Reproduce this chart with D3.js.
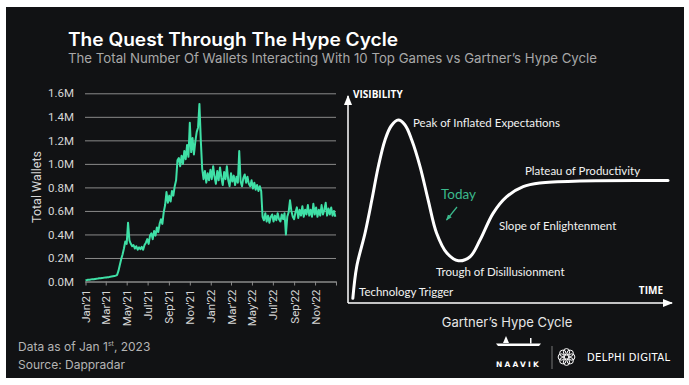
<!DOCTYPE html>
<html>
<head>
<meta charset="utf-8">
<script src="https://cdn.jsdelivr.net/npm/d3@7"></script>
<style>
  html, body { margin: 0; padding: 0; background: #fff; }
  svg { display: block; }
</style>
</head>
<body>
<div id="chart"></div>
<script>
// wallets series: one reading every 4 days from Jan 1 2021 (millions)
const startDate = "2021-01-01";
const stepDays = 4;
const wallets = [
  0.010, 0.012, 0.015, 0.014, 0.018, 0.020, 0.019, 0.022, 0.024, 0.025,
  0.027, 0.028, 0.030, 0.031, 0.033, 0.034, 0.036, 0.037, 0.040, 0.042,
  0.044, 0.046, 0.050, 0.055, 0.090, 0.140, 0.190, 0.230, 0.280, 0.340,
  0.320, 0.500, 0.350, 0.320, 0.300, 0.310, 0.280, 0.300, 0.270, 0.290,
  0.275, 0.295, 0.270, 0.310, 0.330, 0.360, 0.320, 0.390, 0.410, 0.360,
  0.430, 0.390, 0.460, 0.420, 0.490, 0.530, 0.490, 0.590, 0.650, 0.760,
  0.670, 0.730, 0.680, 0.770, 0.730, 0.810, 0.860, 1.030, 1.050, 0.980,
  1.070, 1.000, 1.110, 1.040, 1.160, 1.060, 1.350, 1.100, 1.220, 1.080,
  1.190, 1.270, 1.310, 1.510, 1.200, 0.960, 0.870, 0.940, 0.840, 0.920,
  0.860, 0.950, 0.870, 0.980, 0.890, 0.830, 0.940, 0.860, 0.970, 0.880,
  0.820, 0.930, 0.870, 0.980, 0.860, 0.810, 0.920, 0.850, 0.900, 0.820,
  0.890, 0.840, 1.110, 0.850, 0.810, 0.880, 0.910, 0.840, 0.890, 0.830,
  0.810, 0.860, 0.790, 0.840, 0.780, 0.820, 0.770, 0.810, 0.770, 0.550,
  0.520, 0.580, 0.510, 0.560, 0.500, 0.550, 0.570, 0.510, 0.560, 0.520,
  0.580, 0.530, 0.510, 0.570, 0.530, 0.580, 0.400, 0.550, 0.590, 0.690,
  0.600, 0.550, 0.530, 0.590, 0.630, 0.540, 0.610, 0.560, 0.640, 0.550,
  0.610, 0.570, 0.650, 0.560, 0.610, 0.550, 0.660, 0.570, 0.630, 0.550,
  0.610, 0.560, 0.650, 0.570, 0.610, 0.670, 0.560, 0.620, 0.570, 0.630,
  0.560, 0.600, 0.550
];
const yTicks = [0, 0.2, 0.4, 0.6, 0.8, 1.0, 1.2, 1.4, 1.6];

// hype cycle curve (time 0-100, visibility 0-100)
const hypeTime = [1.5, 2.7, 5.3, 7.4, 9.4, 11.5, 13.4, 15.6, 17.7, 19.8, 22.4, 24.9, 27.5,
  30.7, 34.3, 37.9, 41.0, 45.1, 49.3, 54.4, 59.6, 72, 99.4];
const hypeVis = [2.3, 17.9, 34.5, 50.7, 67.1, 80.3, 87.2, 90.1, 87.7, 80.3, 67.1, 50.7, 34.5,
  24.6, 20.8, 22.8, 31.0, 44.3, 52.4, 57.3, 59.1, 60.1, 60.3];
const hypePhases = ["Technology Trigger", "Peak of Inflated Expectations", "Trough of Disillusionment",
  "Slope of Enlightenment", "Plateau of Productivity"];

const W = 689, H = 385;
const bg = "#111214";
const green = "#3fe0a6";
const grid = "#8a8a8a";

const svg = d3.select("#chart").append("svg")
  .attr("width", W).attr("height", H);

svg.append("rect")
  .attr("x", 6).attr("y", 7).attr("width", 678).attr("height", 371)
  .attr("fill", bg);

// titles
svg.append("text")
  .attr("x", 68).attr("y", 46)
  .attr("font-family", "Inter, Roboto, sans-serif")
  .attr("font-weight", 600).attr("font-size", 18)
  .attr("fill", "#fff")
  .attr("textLength", 330).attr("lengthAdjust", "spacingAndGlyphs")
  .text("The Quest Through The Hype Cycle");

svg.append("text")
  .attr("x", 68).attr("y", 63)
  .attr("font-family", "Inter, Roboto, sans-serif")
  .attr("font-size", 13)
  .attr("fill", "#a8a8a8")
  .attr("textLength", 529).attr("lengthAdjust", "spacingAndGlyphs")
  .text("The Total Number Of Wallets Interacting With 10 Top Games vs Gartner\u2019s Hype Cycle");

// ---- left chart: wallets
const parse = d3.timeParse("%Y-%m-%d");
const t0 = parse(startDate);
const series = wallets.map((v, i) => ({ date: d3.timeDay.offset(t0, i * stepDays), value: v }));

const x = d3.scaleTime()
  .domain([parse("2021-01-01"), parse("2023-01-01")])
  .range([85.5, 336]);
const y = d3.scaleLinear()
  .domain([0, 1.6])
  .range([281.5, 93.3]);

const gy = svg.append("g")
  .attr("transform", "translate(85,0)")
  .call(d3.axisLeft(y).tickValues(yTicks)
    .tickFormat(d => d.toFixed(1) + "M")
    .tickSize(-251).tickPadding(11));
gy.select(".domain").remove();
gy.selectAll(".tick line").attr("stroke", grid).attr("stroke-width", 1);
gy.selectAll(".tick text")
  .attr("fill", "#d6d6d6")
  .attr("font-family", "Roboto, 'Open Sans', sans-serif")
  .attr("font-size", 11.5);

const monthFmt = d3.timeFormat("%b'%y");
const gx = svg.append("g")
  .attr("transform", "translate(0,281.5)")
  .call(d3.axisBottom(x).ticks(d3.timeMonth.every(2))
    .tickFormat(d => d.getFullYear() > 2022 ? "" : monthFmt(d))
    .tickSize(4).tickSizeOuter(0));
gx.select(".domain").attr("stroke", grid);
gx.selectAll(".tick line").attr("stroke", grid);
gx.selectAll(".tick text")
  .attr("fill", "#d6d6d6")
  .attr("font-family", "Roboto, 'Open Sans', sans-serif")
  .attr("font-size", 11.5)
  .attr("transform", "rotate(-90)")
  .attr("text-anchor", "end")
  .attr("x", -8).attr("y", 0).attr("dy", "0.35em");

svg.append("text")
  .attr("transform", "translate(41,187) rotate(-90)")
  .attr("text-anchor", "middle")
  .attr("fill", "#d6d6d6")
  .attr("font-family", "Roboto, 'Open Sans', sans-serif")
  .attr("font-size", 12.5)
  .text("Total Wallets");

const line = d3.line()
  .x(d => x(d.date))
  .y(d => y(d.value));

svg.append("path")
  .datum(series)
  .attr("fill", "none")
  .attr("stroke", green)
  .attr("stroke-width", 2)
  .attr("stroke-linejoin", "round")
  .attr("d", line);

// ---- right chart: hype cycle
const hx = d3.scaleLinear().domain([0, 100]).range([348, 670]);
const hy = d3.scaleLinear().domain([0, 100]).range([303, 100]);

const defs = svg.append("defs");
defs.append("marker")
  .attr("id", "ah").attr("viewBox", "0 0 10 10")
  .attr("refX", 9).attr("refY", 5)
  .attr("markerWidth", 7).attr("markerHeight", 7)
  .attr("orient", "auto-start-reverse")
  .append("path").attr("d", "M0,1 L10,5 L0,9 Z").attr("fill", "#fff");
defs.append("marker")
  .attr("id", "ag").attr("viewBox", "0 0 10 10")
  .attr("refX", 9).attr("refY", 5)
  .attr("markerWidth", 5).attr("markerHeight", 5)
  .attr("orient", "auto")
  .append("path").attr("d", "M0,1 L10,5 L0,9 Z").attr("fill", "#3bb98c");

svg.append("line")
  .attr("x1", hx(0)).attr("y1", hy(0)).attr("x2", hx(0)).attr("y2", 96)
  .attr("stroke", "#fff").attr("stroke-width", 1.5)
  .attr("marker-end", "url(#ah)");
svg.append("line")
  .attr("x1", hx(0)).attr("y1", hy(0)).attr("x2", 672).attr("y2", hy(0))
  .attr("stroke", "#fff").attr("stroke-width", 1.5)
  .attr("marker-end", "url(#ah)");

const hypeLine = d3.line()
  .x(d => hx(d[0]))
  .y(d => hy(d[1]))
  .curve(d3.curveCatmullRom.alpha(0.5));

svg.append("path")
  .datum(hypeTime.map((t, i) => [t, hypeVis[i]]))
  .attr("fill", "none")
  .attr("stroke", "#fff")
  .attr("stroke-width", 3)
  .attr("stroke-linecap", "round")
  .attr("d", hypeLine);

const labelFont = "Lato, 'Open Sans', sans-serif";
svg.append("text")
  .attr("x", 353).attr("y", 98)
  .attr("font-family", "'Open Sans', sans-serif").attr("font-weight", 700)
  .attr("font-size", 10).attr("fill", "#fff")
  .text("VISIBILITY");
svg.append("text")
  .attr("x", 663).attr("y", 294).attr("text-anchor", "end")
  .attr("font-family", "'Open Sans', sans-serif").attr("font-weight", 700)
  .attr("font-size", 10).attr("fill", "#fff")
  .text("TIME");

const phasePos = [[359, 296], [413, 127], [436, 276], [499, 229.5], [525, 175]];
hypePhases.forEach((name, i) => {
  svg.append("text")
    .attr("x", phasePos[i][0]).attr("y", phasePos[i][1])
    .attr("font-family", labelFont)
    .attr("font-size", 11.5)
    .attr("fill", "#f2f2f2")
    .text(name);
});

svg.append("text")
  .attr("x", 441).attr("y", 199)
  .attr("font-family", labelFont)
  .attr("font-size", 13.5)
  .attr("fill", "#3bb98c")
  .text("Today");
svg.append("line")
  .attr("x1", 457).attr("y1", 207).attr("x2", 446.5).attr("y2", 220)
  .attr("stroke", "#3bb98c").attr("stroke-width", 1.2)
  .attr("marker-end", "url(#ag)");

svg.append("text")
  .attr("x", 507).attr("y", 327).attr("text-anchor", "middle")
  .attr("font-family", "Inter, Roboto, sans-serif")
  .attr("font-size", 13).attr("fill", "#e6e6e6")
  .text("Gartner\u2019s Hype Cycle");

// ---- footer
const foot = svg.append("g")
  .attr("font-family", "Inter, Roboto, sans-serif")
  .attr("font-size", 12).attr("fill", "#b5b5b5");
const f1 = foot.append("text").attr("x", 18).attr("y", 351);
f1.append("tspan").text("Data as of Jan 1");
f1.append("tspan").attr("font-size", 7).attr("dy", -5).text("st");
f1.append("tspan").attr("dy", 5).text(", 2023");
foot.append("text").attr("x", 18).attr("y", 369).text("Source: Dappradar");

// naavik mark
const logo = svg.append("g").attr("fill", "#fff").attr("stroke", "none");
logo.append("path").attr("d", "M496,343.5 L541,343.5 L539,346 L498,346 Z");
logo.append("path").attr("d", "M503,343 L506,336 L509,343 Z");
logo.append("rect").attr("x", 530).attr("y", 338).attr("width", 1.5).attr("height", 5.5);
logo.append("text")
  .attr("x", 518.5).attr("y", 367).attr("text-anchor", "middle")
  .attr("font-family", "'DejaVu Sans', sans-serif").attr("font-weight", 700)
  .attr("font-size", 7.5).attr("letter-spacing", 2.2)
  .text("NAAVIK");

svg.append("line")
  .attr("x1", 552).attr("y1", 346).attr("x2", 552).attr("y2", 369)
  .attr("stroke", "#777").attr("stroke-width", 1);

// delphi mark: ring of circles
const ring = d3.range(8);
svg.append("g")
  .selectAll("circle").data(ring).join("circle")
  .attr("cx", i => 566.5 + 5.2 * Math.cos(i * Math.PI / 4))
  .attr("cy", i => 357 + 5.2 * Math.sin(i * Math.PI / 4))
  .attr("r", 3.2)
  .attr("fill", "none").attr("stroke", "#fff").attr("stroke-width", 1);

svg.append("text")
  .attr("x", 587).attr("y", 361)
  .attr("font-family", "'DejaVu Sans', sans-serif")
  .attr("font-size", 10).attr("fill", "#fff")
  .attr("textLength", 83).attr("lengthAdjust", "spacing")
  .text("DELPHI DIGITAL");
</script>
</body>
</html>
